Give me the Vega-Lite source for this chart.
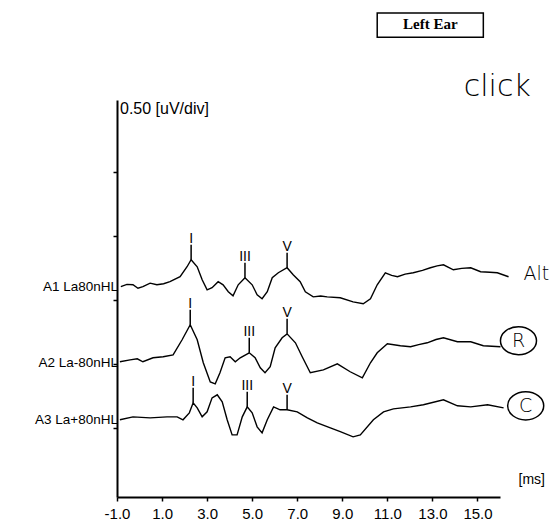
{
  "$schema": "https://vega.github.io/schema/vega-lite/v6.json",
  "width": 383,
  "height": 397,
  "autosize": {"type": "none"},
  "padding": {"left": 117, "top": 100, "right": 59, "bottom": 34},
  "background": "white",
  "config": {"view": {"stroke": null}, "font": "Liberation Sans"},
  "datasets": {
    "traces": [
      {"trace": "A1", "t": -0.83, "v": 1.602}, {"trace": "A1", "t": -0.56, "v": 1.62}, {"trace": "A1", "t": -0.29, "v": 1.617}, {"trace": "A1", "t": -0.07, "v": 1.59}, {"trace": "A1", "t": 0.15, "v": 1.602}, {"trace": "A1", "t": 0.47, "v": 1.63}, {"trace": "A1", "t": 0.77, "v": 1.617}, {"trace": "A1", "t": 1.07, "v": 1.625}, {"trace": "A1", "t": 1.35, "v": 1.641}, {"trace": "A1", "t": 1.80, "v": 1.68}, {"trace": "A1", "t": 2.11, "v": 1.758}, {"trace": "A1", "t": 2.29, "v": 1.813}, {"trace": "A1", "t": 2.56, "v": 1.758}, {"trace": "A1", "t": 2.78, "v": 1.656}, {"trace": "A1", "t": 3.00, "v": 1.578}, {"trace": "A1", "t": 3.22, "v": 1.594}, {"trace": "A1", "t": 3.49, "v": 1.641}, {"trace": "A1", "t": 3.71, "v": 1.617}, {"trace": "A1", "t": 3.94, "v": 1.563}, {"trace": "A1", "t": 4.15, "v": 1.531}, {"trace": "A1", "t": 4.38, "v": 1.617}, {"trace": "A1", "t": 4.68, "v": 1.672}, {"trace": "A1", "t": 5.00, "v": 1.617}, {"trace": "A1", "t": 5.22, "v": 1.539}, {"trace": "A1", "t": 5.44, "v": 1.508}, {"trace": "A1", "t": 5.67, "v": 1.563}, {"trace": "A1", "t": 5.89, "v": 1.672}, {"trace": "A1", "t": 6.16, "v": 1.711}, {"trace": "A1", "t": 6.55, "v": 1.75}, {"trace": "A1", "t": 6.82, "v": 1.695}, {"trace": "A1", "t": 7.13, "v": 1.641}, {"trace": "A1", "t": 7.36, "v": 1.563}, {"trace": "A1", "t": 7.71, "v": 1.523}, {"trace": "A1", "t": 8.04, "v": 1.53}, {"trace": "A1", "t": 8.33, "v": 1.523}, {"trace": "A1", "t": 8.91, "v": 1.516}, {"trace": "A1", "t": 9.48, "v": 1.484}, {"trace": "A1", "t": 9.93, "v": 1.469}, {"trace": "A1", "t": 10.25, "v": 1.508}, {"trace": "A1", "t": 10.55, "v": 1.617}, {"trace": "A1", "t": 10.91, "v": 1.711}, {"trace": "A1", "t": 11.19, "v": 1.69}, {"trace": "A1", "t": 11.45, "v": 1.68}, {"trace": "A1", "t": 11.79, "v": 1.70}, {"trace": "A1", "t": 12.15, "v": 1.711}, {"trace": "A1", "t": 12.56, "v": 1.73}, {"trace": "A1", "t": 12.91, "v": 1.75}, {"trace": "A1", "t": 13.21, "v": 1.765}, {"trace": "A1", "t": 13.49, "v": 1.773}, {"trace": "A1", "t": 13.93, "v": 1.734}, {"trace": "A1", "t": 14.30, "v": 1.745}, {"trace": "A1", "t": 14.70, "v": 1.75}, {"trace": "A1", "t": 15.14, "v": 1.719}, {"trace": "A1", "t": 15.55, "v": 1.715}, {"trace": "A1", "t": 15.88, "v": 1.711}, {"trace": "A1", "t": 16.38, "v": 1.68},

      {"trace": "A2", "t": -0.87, "v": 1.016}, {"trace": "A2", "t": -0.42, "v": 1.031}, {"trace": "A2", "t": -0.10, "v": 1.039}, {"trace": "A2", "t": 0.15, "v": 1.016}, {"trace": "A2", "t": 0.60, "v": 1.047}, {"trace": "A2", "t": 1.05, "v": 1.055}, {"trace": "A2", "t": 1.49, "v": 1.07}, {"trace": "A2", "t": 1.89, "v": 1.188}, {"trace": "A2", "t": 2.25, "v": 1.305}, {"trace": "A2", "t": 2.56, "v": 1.188}, {"trace": "A2", "t": 2.83, "v": 1.008}, {"trace": "A2", "t": 3.14, "v": 0.859}, {"trace": "A2", "t": 3.36, "v": 0.844}, {"trace": "A2", "t": 3.57, "v": 0.93}, {"trace": "A2", "t": 3.80, "v": 1.047}, {"trace": "A2", "t": 4.02, "v": 1.055}, {"trace": "A2", "t": 4.25, "v": 1.016}, {"trace": "A2", "t": 4.47, "v": 1.047}, {"trace": "A2", "t": 4.87, "v": 1.086}, {"trace": "A2", "t": 5.13, "v": 1.047}, {"trace": "A2", "t": 5.36, "v": 0.969}, {"trace": "A2", "t": 5.57, "v": 0.93}, {"trace": "A2", "t": 5.80, "v": 0.977}, {"trace": "A2", "t": 6.02, "v": 1.125}, {"trace": "A2", "t": 6.33, "v": 1.203}, {"trace": "A2", "t": 6.55, "v": 1.234}, {"trace": "A2", "t": 6.92, "v": 1.164}, {"trace": "A2", "t": 7.22, "v": 1.055}, {"trace": "A2", "t": 7.58, "v": 0.93}, {"trace": "A2", "t": 8.16, "v": 0.953}, {"trace": "A2", "t": 8.78, "v": 1.0}, {"trace": "A2", "t": 9.35, "v": 0.938}, {"trace": "A2", "t": 9.89, "v": 0.891}, {"trace": "A2", "t": 10.25, "v": 1.008}, {"trace": "A2", "t": 10.55, "v": 1.086}, {"trace": "A2", "t": 11.00, "v": 1.156}, {"trace": "A2", "t": 11.58, "v": 1.141}, {"trace": "A2", "t": 12.03, "v": 1.133}, {"trace": "A2", "t": 12.39, "v": 1.15}, {"trace": "A2", "t": 12.77, "v": 1.164}, {"trace": "A2", "t": 13.16, "v": 1.19}, {"trace": "A2", "t": 13.49, "v": 1.203}, {"trace": "A2", "t": 14.11, "v": 1.172}, {"trace": "A2", "t": 14.70, "v": 1.172}, {"trace": "A2", "t": 15.26, "v": 1.141}, {"trace": "A2", "t": 16.02, "v": 1.133},

      {"trace": "A3", "t": -0.87, "v": 0.563}, {"trace": "A3", "t": -0.29, "v": 0.586}, {"trace": "A3", "t": 0.47, "v": 0.578}, {"trace": "A3", "t": 1.22, "v": 0.586}, {"trace": "A3", "t": 1.67, "v": 0.586}, {"trace": "A3", "t": 1.93, "v": 0.563}, {"trace": "A3", "t": 2.21, "v": 0.617}, {"trace": "A3", "t": 2.38, "v": 0.695}, {"trace": "A3", "t": 2.56, "v": 0.656}, {"trace": "A3", "t": 2.78, "v": 0.586}, {"trace": "A3", "t": 3.00, "v": 0.625}, {"trace": "A3", "t": 3.22, "v": 0.734}, {"trace": "A3", "t": 3.45, "v": 0.758}, {"trace": "A3", "t": 3.67, "v": 0.703}, {"trace": "A3", "t": 3.89, "v": 0.563}, {"trace": "A3", "t": 4.11, "v": 0.445}, {"trace": "A3", "t": 4.33, "v": 0.445}, {"trace": "A3", "t": 4.56, "v": 0.586}, {"trace": "A3", "t": 4.78, "v": 0.664}, {"trace": "A3", "t": 5.00, "v": 0.617}, {"trace": "A3", "t": 5.22, "v": 0.508}, {"trace": "A3", "t": 5.44, "v": 0.461}, {"trace": "A3", "t": 5.67, "v": 0.563}, {"trace": "A3", "t": 5.95, "v": 0.664}, {"trace": "A3", "t": 6.24, "v": 0.641}, {"trace": "A3", "t": 6.55, "v": 0.641}, {"trace": "A3", "t": 7.00, "v": 0.625}, {"trace": "A3", "t": 7.45, "v": 0.578}, {"trace": "A3", "t": 7.89, "v": 0.539}, {"trace": "A3", "t": 8.47, "v": 0.5}, {"trace": "A3", "t": 8.91, "v": 0.47}, {"trace": "A3", "t": 9.48, "v": 0.43}, {"trace": "A3", "t": 9.80, "v": 0.445}, {"trace": "A3", "t": 10.38, "v": 0.563}, {"trace": "A3", "t": 10.83, "v": 0.625}, {"trace": "A3", "t": 11.27, "v": 0.648}, {"trace": "A3", "t": 12.03, "v": 0.664}, {"trace": "A3", "t": 12.60, "v": 0.68}, {"trace": "A3", "t": 13.49, "v": 0.719}, {"trace": "A3", "t": 14.11, "v": 0.672}, {"trace": "A3", "t": 14.70, "v": 0.664}, {"trace": "A3", "t": 15.45, "v": 0.68}, {"trace": "A3", "t": 16.16, "v": 0.656}
    ],
    "peaks": [
      {"trace": "A1", "label": "I", "t": 2.29, "v": 1.813},
      {"trace": "A1", "label": "III", "t": 4.68, "v": 1.672},
      {"trace": "A1", "label": "V", "t": 6.55, "v": 1.75},
      {"trace": "A2", "label": "I", "t": 2.25, "v": 1.305},
      {"trace": "A2", "label": "III", "t": 4.87, "v": 1.086},
      {"trace": "A2", "label": "V", "t": 6.55, "v": 1.234},
      {"trace": "A3", "label": "I", "t": 2.38, "v": 0.695},
      {"trace": "A3", "label": "III", "t": 4.78, "v": 0.664},
      {"trace": "A3", "label": "V", "t": 6.55, "v": 0.641}
    ],
    "names": [
      {"name": "A1 La80nHL", "t": -1, "v": 1.60},
      {"name": "A2 La-80nHL", "t": -1, "v": 1.01},
      {"name": "A3 La+80nHL", "t": -1, "v": 0.56}
    ],
    "smallnotes": [
      {"note": "Alt", "t": 17.61, "v": 1.70},
      {"note": "R", "t": 16.82, "v": 1.18},
      {"note": "C", "t": 17.14, "v": 0.672}
    ],
    "circles": [
      {"t": 16.82, "v": 1.18},
      {"t": 17.14, "v": 0.672}
    ],
    "header": [
      {"text": "Left Ear", "t": 12.91, "v": 3.65, "t1": 10.55, "t2": 15.26, "v1": 3.55, "v2": 3.74}
    ]
  },
  "layer": [
    {
      "data": {"name": "traces"},
      "mark": {"type": "line", "color": "black", "strokeWidth": 1.4, "clip": false},
      "encoding": {
        "x": {
          "field": "t", "type": "quantitative",
          "scale": {"domain": [-1, 16], "nice": false, "zero": false},
          "axis": {
            "values": [-1, 1, 3, 5, 7, 9, 11, 13, 15], "format": ".1f", "title": null,
            "labelExpr": "replace(datum.label, '\u2212', '-')",
            "grid": false, "domainColor": "black", "domainWidth": 2, "tickColor": "black",
            "tickWidth": 1.5, "tickSize": 4, "labelColor": "black", "labelFontSize": 15,
            "labelFont": "Liberation Sans", "labelPadding": 5, "labelFlush": false
          }
        },
        "y": {
          "field": "v", "type": "quantitative",
          "scale": {"domain": [-0.04, 3.06], "nice": false, "zero": false},
          "axis": {
            "values": [0.5, 1.0, 1.5, 2.0, 2.5], "labels": false, "title": null, "grid": false,
            "domainColor": "black", "domainWidth": 2, "tickColor": "black", "tickWidth": 1.5, "tickSize": 4
          }
        },
        "detail": {"field": "trace"}
      }
    },
    {
      "data": {"name": "peaks"},
      "mark": {"type": "rule", "color": "black", "strokeWidth": 1.5, "y2Offset": -15},
      "encoding": {
        "x": {"field": "t", "type": "quantitative"},
        "y": {"field": "v", "type": "quantitative"},
        "y2": {"field": "v"}
      }
    },
    {
      "data": {"name": "peaks"},
      "mark": {"type": "text", "color": "black", "font": "Liberation Sans", "fontSize": 14, "baseline": "alphabetic", "dy": -17},
      "encoding": {
        "x": {"field": "t", "type": "quantitative"},
        "y": {"field": "v", "type": "quantitative"},
        "text": {"field": "label"}
      }
    },
    {
      "data": {"name": "names"},
      "mark": {"type": "text", "color": "black", "font": "Liberation Sans", "fontSize": 13.5, "align": "right", "baseline": "middle", "dx": 1},
      "encoding": {
        "x": {"field": "t", "type": "quantitative"},
        "y": {"field": "v", "type": "quantitative"},
        "text": {"field": "name"}
      }
    },
    {
      "data": {"values": [{"t": -1, "v": 2.99, "text": "0.50 [uV/div]"}]},
      "mark": {"type": "text", "color": "black", "font": "Liberation Sans", "fontSize": 16, "baseline": "middle", "align": "left", "dx": 3},
      "encoding": {
        "x": {"field": "t", "type": "quantitative"},
        "y": {"field": "v", "type": "quantitative"},
        "text": {"field": "text"}
      }
    },
    {
      "data": {"values": [{"t": 16.78, "v": 0.094, "text": "[ms]"}]},
      "mark": {"type": "text", "color": "black", "font": "Liberation Sans", "fontSize": 14, "baseline": "middle", "align": "left", "dx": 1},
      "encoding": {
        "x": {"field": "t", "type": "quantitative"},
        "y": {"field": "v", "type": "quantitative"},
        "text": {"field": "text"}
      }
    },
    {
      "data": {"name": "header"},
      "mark": {"type": "rect", "fill": "white", "stroke": "black", "strokeWidth": 1.5, "clip": false},
      "encoding": {
        "x": {"field": "t1", "type": "quantitative"},
        "x2": {"field": "t2"},
        "y": {"field": "v1", "type": "quantitative"},
        "y2": {"field": "v2"}
      }
    },
    {
      "data": {"name": "header"},
      "mark": {"type": "text", "color": "black", "font": "Liberation Serif", "fontWeight": "bold", "fontSize": 15, "baseline": "middle"},
      "encoding": {
        "x": {"field": "t", "type": "quantitative"},
        "y": {"field": "v", "type": "quantitative"},
        "text": {"field": "text"}
      }
    },
    {
      "data": {"name": "circles"},
      "mark": {"type": "point", "shape": "M -1 0 A 1 0.78 0 1 1 1 0 A 1 0.78 0 1 1 -1 0 Z", "size": 1300, "filled": false, "stroke": "black", "strokeWidth": 1.5, "opacity": 1},
      "encoding": {
        "x": {"field": "t", "type": "quantitative"},
        "y": {"field": "v", "type": "quantitative"}
      }
    },
    {
      "data": {"values": [{"note": "click", "t": 15.88, "v": 3.16}]},
      "mark": {"type": "text", "color": "black", "font": "DejaVu Sans", "fontWeight": 300, "fontSize": 30, "baseline": "middle"},
      "encoding": {
        "x": {"field": "t", "type": "quantitative"},
        "y": {"field": "v", "type": "quantitative"},
        "text": {"field": "note"}
      }
    },
    {
      "data": {"name": "smallnotes"},
      "mark": {"type": "text", "color": "black", "font": "DejaVu Sans", "fontWeight": 300, "fontSize": 19, "baseline": "middle"},
      "encoding": {
        "x": {"field": "t", "type": "quantitative"},
        "y": {"field": "v", "type": "quantitative"},
        "text": {"field": "note"}
      }
    }
  ]
}
